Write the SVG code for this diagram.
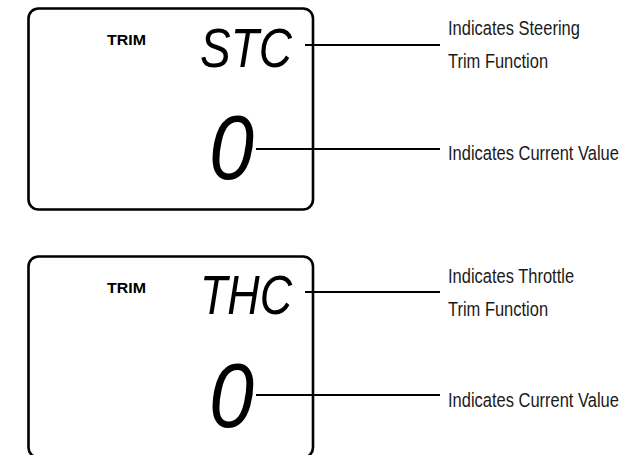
<svg xmlns="http://www.w3.org/2000/svg" width="634" height="455" viewBox="0 0 634 455">
<style>
.box{fill:none;stroke:#000;stroke-width:2.6}
.trim{font-family:"Liberation Sans",Arial,sans-serif;font-weight:bold;font-size:15.5px;fill:#000}
.seg{font-family:"Liberation Sans",Arial,sans-serif;font-style:italic;fill:#000}
.lbl{font-family:"Liberation Sans",Arial,sans-serif;font-size:19.5px;fill:#1a1a1a}
.lead{stroke:#000;stroke-width:1.8;fill:none}
</style>
<rect width="634" height="455" fill="#fff"/>
<g id="display-steering">
  <rect class="box" x="28.5" y="8.5" width="284.5" height="201" rx="10"/>
  <text class="trim" x="107" y="44.5" textLength="39" lengthAdjust="spacingAndGlyphs">TRIM</text>
  <text class="seg" x="200" y="67" font-size="56" textLength="92" lengthAdjust="spacingAndGlyphs">STC</text>
  <text class="seg" x="209" y="179" font-size="90" textLength="45" lengthAdjust="spacingAndGlyphs">0</text>
</g>
<g id="display-throttle">
  <rect class="box" x="28.5" y="256.5" width="284.5" height="201" rx="10"/>
  <text class="trim" x="107" y="292.5" textLength="39" lengthAdjust="spacingAndGlyphs">TRIM</text>
  <text class="seg" x="200" y="314" font-size="56" textLength="92" lengthAdjust="spacingAndGlyphs">THC</text>
  <text class="seg" x="209" y="427" font-size="90" textLength="45" lengthAdjust="spacingAndGlyphs">0</text>
</g>
<g id="label-steering" transform="translate(448,0) scale(0.845,1)">
  <text class="lbl" x="0" y="35.5">Indicates Steering</text>
  <text class="lbl" x="0" y="68.5">Trim Function</text>
</g>
<g id="label-value-1" transform="translate(448,0) scale(0.845,1)">
  <text class="lbl" x="0" y="160">Indicates Current Value</text>
</g>
<g id="label-throttle" transform="translate(448,0) scale(0.845,1)">
  <text class="lbl" x="0" y="283">Indicates Throttle</text>
  <text class="lbl" x="0" y="316">Trim Function</text>
</g>
<g id="label-value-2" transform="translate(448,0) scale(0.845,1)">
  <text class="lbl" x="0" y="407">Indicates Current Value</text>
</g>
<g id="connectors">
  <line class="lead" x1="305" y1="45" x2="440" y2="45"/>
  <line class="lead" x1="256" y1="149" x2="440" y2="149"/>
  <line class="lead" x1="305" y1="292" x2="440" y2="292"/>
  <line class="lead" x1="256" y1="395" x2="440" y2="395"/>
</g>
</svg>
